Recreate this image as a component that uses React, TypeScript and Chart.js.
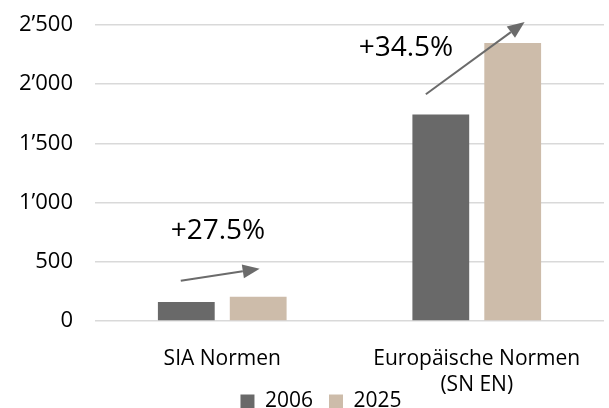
import React, { useEffect, useRef } from "react";
import { Chart, registerables } from "chart.js";

Chart.register(...registerables);

const categories: (string | string[])[] = ["SIA Normen", ["Europäische Normen", "(SN EN)"]];
const seriesLabels = ["2006", "2025"];
const values2006 = [160, 1745];
const values2025 = [204, 2347];
const yTicks = [0, 500, 1000, 1500, 2000, 2500];
const changeLabels = ["+27.5%", "+34.5%"];
// arrow start/end in data units: [category offset, value]
const arrowStarts = [[-0.163, 339], [-0.2, 1915]];
const arrowEnds = [[0.147, 441], [0.188, 2525]];
const labelPos = [[-0.017, 763], [-0.278, 2305]];

const FONT = "'Open Sans', 'Noto Sans', sans-serif";

const fmt = (v: number) => {
  const s = String(Math.round(v));
  return s.replace(/\B(?=(\d{3})+(?!\d))/g, "\u2019");
};

const annotationPlugin = {
  id: "growthArrows",
  afterLayout(chart: any) {
    if (chart.legend) {
      chart.legend.left += 19;
      chart.legend.right += 19;
    }
  },
  afterDatasetsDraw(chart: any) {
    const ctx = chart.ctx;
    const x = chart.scales.x;
    const y = chart.scales.y;
    const catW = (x.getPixelForValue(1) - x.getPixelForValue(0));
    ctx.save();
    for (let i = 0; i < categories.length; i++) {
      const cx = x.getPixelForValue(i);
      const x1 = cx + arrowStarts[i][0] * catW;
      const y1 = y.getPixelForValue(arrowStarts[i][1]);
      const x2 = cx + arrowEnds[i][0] * catW;
      const y2 = y.getPixelForValue(arrowEnds[i][1]);
      const ang = Math.atan2(y2 - y1, x2 - x1);
      const headL = 17;
      const headW = 7;
      const bx = x2 - headL * Math.cos(ang);
      const by = y2 - headL * Math.sin(ang);
      ctx.strokeStyle = "#6b6b6b";
      ctx.fillStyle = "#6b6b6b";
      ctx.lineWidth = 2;
      ctx.beginPath();
      ctx.moveTo(x1, y1);
      ctx.lineTo(bx, by);
      ctx.stroke();
      ctx.beginPath();
      ctx.moveTo(x2, y2);
      ctx.lineTo(bx + headW * Math.sin(ang), by - headW * Math.cos(ang));
      ctx.lineTo(bx - headW * Math.sin(ang), by + headW * Math.cos(ang));
      ctx.closePath();
      ctx.fill();
      ctx.fillStyle = "#000";
      ctx.font = `28px ${FONT}`;
      ctx.textAlign = "center";
      ctx.textBaseline = "middle";
      ctx.fillText(changeLabels[i], cx + labelPos[i][0] * catW, y.getPixelForValue(labelPos[i][1]));
    }
    ctx.restore();
  },
};

export default function App() {
  const ref = useRef<HTMLCanvasElement | null>(null);
  useEffect(() => {
    if (!ref.current) return;
    const chart = new Chart(ref.current, {
      type: "bar",
      data: {
        labels: categories as any,
        datasets: [
          { label: seriesLabels[0], data: values2006, backgroundColor: "#696969", categoryPercentage: 0.565, barPercentage: 0.79 },
          { label: seriesLabels[1], data: values2025, backgroundColor: "#cdbcaa", categoryPercentage: 0.565, barPercentage: 0.79 },
        ],
      },
      options: {
        animation: false,
        responsive: false,
        maintainAspectRatio: false,
        layout: { padding: { top: 25, right: 5, left: 0, bottom: 0 } },
        plugins: {
          tooltip: { enabled: false },
          legend: {
            position: "bottom",
            labels: {
              boxWidth: 14,
              boxHeight: 14,
              padding: 16,
              color: "#000",
              font: { family: FONT, size: 21 },
            },
          },
        },
        scales: {
          x: {
            grid: { display: false },
            border: { display: false },
            ticks: { color: "#000", font: { family: FONT, size: 21, lineHeight: 1.25 }, padding: 17, maxRotation: 0 },
            afterFit(s: any) {
              s.height = 54;
              s.paddingLeft = 0;
              s.paddingRight = 0;
              s._computeLabelArea = () => undefined;
            },
          },
          y: {
            min: 0,
            max: 2500,
            afterBuildTicks(s: any) { s.ticks = yTicks.map((v) => ({ value: v })); },
            grid: { color: "#d9d9d9", lineWidth: 1.5, drawTicks: false },
            border: { display: false },
            ticks: { color: "#000", font: { family: FONT, size: 22 }, padding: 22, callback: (v: any) => fmt(Number(v)) },
            afterFit(s: any) {
              s.width = 95;
              s.paddingTop = 0;
              s.paddingBottom = 0;
            },
          },
        },
      },
      plugins: [annotationPlugin],
    });
    return () => chart.destroy();
  }, []);
  return (
    <div style={{ position: "absolute", left: 0, top: 0, width: 609, height: 408, overflow: "hidden", background: "#fff" }}>
      <canvas ref={ref} width={609} height={422} style={{ display: "block" }} />
    </div>
  );
}
